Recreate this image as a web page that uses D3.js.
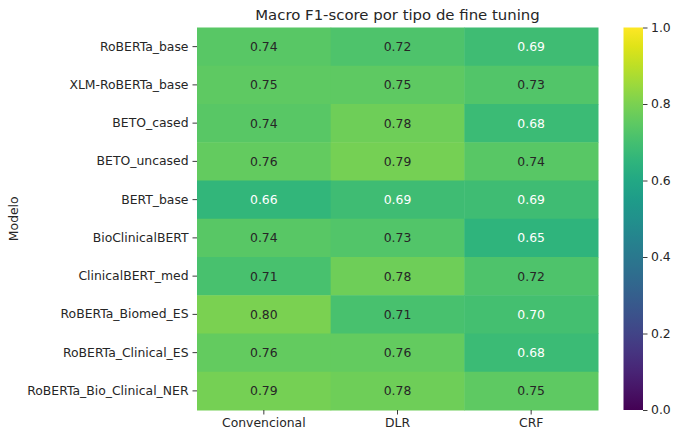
<!DOCTYPE html>
<html>
<head>
<meta charset="utf-8">
<script src="https://cdn.jsdelivr.net/npm/d3@7"></script>
<style>
  body { margin: 0; background: #fff; }
  svg text { font-family: "DejaVu Sans", sans-serif; fill: #262626; }
</style>
</head>
<body>
<svg id="chart" width="680" height="440"></svg>
<script>
// datos
const modelos = ["RoBERTa_base", "XLM-RoBERTa_base", "BETO_cased", "BETO_uncased", "BERT_base",
  "BioClinicalBERT", "ClinicalBERT_med", "RoBERTa_Biomed_ES", "RoBERTa_Clinical_ES", "RoBERTa_Bio_Clinical_NER"];
const tipos = ["Convencional", "DLR", "CRF"];
const convencional = [0.74, 0.75, 0.74, 0.76, 0.66, 0.74, 0.71, 0.80, 0.76, 0.79];
const dlr = [0.72, 0.75, 0.78, 0.79, 0.69, 0.73, 0.78, 0.71, 0.76, 0.78];
const crf = [0.69, 0.73, 0.68, 0.74, 0.69, 0.65, 0.72, 0.70, 0.68, 0.75];
const cbarTicks = [0.0, 0.2, 0.4, 0.6, 0.8, 1.0];

const series = [convencional, dlr, crf];
const cells = [];
modelos.forEach((m, i) => {
  tipos.forEach((t, j) => {
    cells.push({ modelo: m, tipo: t, value: series[j][i] });
  });
});

const svg = d3.select('#chart');

const X0 = 197, X1 = 598, Y0 = 27.5, Y1 = 410;
const FS = '12.4px';

const x = d3.scaleBand().domain(tipos).range([X0, X1]);
const y = d3.scaleBand().domain(modelos).range([Y0, Y1]);
const color = d3.scaleSequential(d3.interpolateViridis).domain([0, 1]);

// luminancia relativa para elegir el color del texto
function lum(c) {
  const rgb = d3.rgb(c);
  const f = (v) => {
    v = v / 255;
    return v <= 0.03928 ? v / 12.92 : Math.pow((v + 0.055) / 1.055, 2.4);
  };
  return 0.2126 * f(rgb.r) + 0.7152 * f(rgb.g) + 0.0722 * f(rgb.b);
}
// umbral: en la referencia 0.70 va en blanco y 0.71 en oscuro
const LUM_UMBRAL = lum(color(0.705));

// celdas
svg.selectAll('rect.cell')
  .data(cells)
  .enter()
  .append('rect')
  .attr('class', 'cell')
  .attr('x', (d) => x(d.tipo))
  .attr('y', (d) => y(d.modelo))
  .attr('width', x.bandwidth() + 0.5)
  .attr('height', y.bandwidth() + 0.5)
  .attr('fill', (d) => color(d.value));

svg.selectAll('text.annot')
  .data(cells)
  .enter()
  .append('text')
  .attr('class', 'annot')
  .attr('x', (d) => x(d.tipo) + x.bandwidth() / 2)
  .attr('y', (d) => y(d.modelo) + y.bandwidth() / 2)
  .attr('text-anchor', 'middle')
  .attr('dominant-baseline', 'central')
  .style('font-size', FS)
  .style('fill', (d) => (lum(color(d.value)) > LUM_UMBRAL ? '#262626' : '#ffffff'))
  .text((d) => d.value.toFixed(2));

// ejes
const xAxis = svg.append('g')
  .attr('transform', `translate(0,${Y1})`)
  .call(d3.axisBottom(x).tickSize(4.5).tickPadding(3.5));
const yAxis = svg.append('g')
  .attr('transform', `translate(${X0},0)`)
  .call(d3.axisLeft(y).tickSize(4.5).tickPadding(4));

[xAxis, yAxis].forEach((g) => {
  g.select('.domain').remove();
  g.selectAll('.tick line').attr('stroke', '#262626').attr('stroke-width', 0.9);
  g.selectAll('.tick text').style('font-size', FS).attr('fill', '#262626');
});

svg.append('text')
  .attr('transform', `translate(18,${(Y0 + Y1) / 2}) rotate(-90)`)
  .attr('text-anchor', 'middle')
  .style('font-size', FS)
  .text('Modelo');

svg.append('text')
  .attr('x', (X0 + X1) / 2)
  .attr('y', 20)
  .attr('text-anchor', 'middle')
  .style('font-size', '14.9px')
  .text('Macro F1-score por tipo de fine tuning');

// barra de color
const CB_X = 623.5, CB_W = 19.5;
const cy = d3.scaleLinear().domain([0, 1]).range([Y1, Y0]);

const defs = svg.append('defs');
const grad = defs.append('linearGradient')
  .attr('id', 'viridis')
  .attr('x1', 0).attr('y1', 1)
  .attr('x2', 0).attr('y2', 0);
d3.range(0, 1.0001, 0.05).forEach((t) => {
  grad.append('stop')
    .attr('offset', t)
    .attr('stop-color', color(t));
});

svg.append('rect')
  .attr('x', CB_X)
  .attr('y', Y0)
  .attr('width', CB_W)
  .attr('height', Y1 - Y0)
  .attr('fill', 'url(#viridis)');

const cAxis = svg.append('g')
  .attr('transform', `translate(${CB_X + CB_W},0)`)
  .call(d3.axisRight(cy).tickValues(cbarTicks).tickFormat(d3.format('.1f')).tickSize(4.5).tickPadding(3.5));
cAxis.select('.domain').remove();
cAxis.selectAll('.tick line').attr('stroke', '#262626').attr('stroke-width', 0.9);
cAxis.selectAll('.tick text').style('font-size', FS).attr('fill', '#262626');
</script>
</body>
</html>
